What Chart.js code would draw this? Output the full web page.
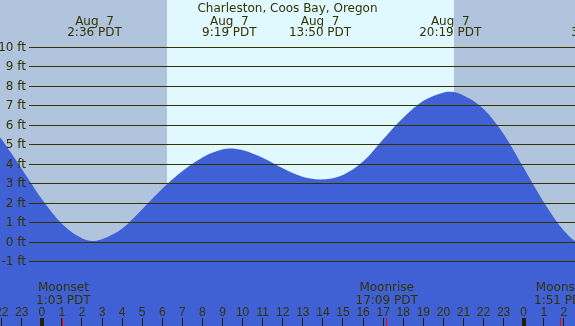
<!DOCTYPE html>
<html>
<head>
<meta charset="utf-8">
<title>Charleston, Coos Bay, Oregon</title>
<script src="https://cdn.jsdelivr.net/npm/chart.js@4/dist/chart.umd.min.js"></script>
<style>
  html, body { margin: 0; padding: 0; overflow: hidden; background: #b0c4de; }
  canvas { display: block; }
</style>
</head>
<body>
<canvas id="tideChart" width="575" height="326"></canvas>
<script>
// Tide curve (hours from midnight Aug 7, feet)
const tideHours = [-2.2, -2, -1, 0, 1, 2, 2.6, 3, 4, 5, 6, 7, 8, 9, 9.317, 10, 11, 12, 13, 13.833, 15, 16, 17, 18, 19, 20, 20.317, 21, 22, 23, 24, 25, 26, 27, 27.7];
const tideFeet  = [5.5, 5.23, 3.71, 2.17, 0.91, 0.18, 0.05, 0.15, 0.7, 1.7, 2.75, 3.65, 4.35, 4.75, 4.8, 4.71, 4.31, 3.77, 3.33, 3.2, 3.45, 4.15, 5.3, 6.4, 7.25, 7.67, 7.7, 7.5, 6.8, 5.5, 3.75, 2.0, 0.55, -0.3, -0.6];

// High / low annotations at the top
const extremeHours = [2.6, 9.317, 13.833, 20.317, 27.7];
const extremeDates = ['Aug  7', 'Aug  7', 'Aug  7', 'Aug  7', 'Aug  8'];
const extremeTimes = ['2:36 PDT', '9:19 PDT', '13:50 PDT', '20:19 PDT', '3:42 PDT'];

// Moon events along the bottom
const moonHours = [1.05, 17.15, 25.85];
const moonNames = ['Moonset', 'Moonrise', 'Moonset'];
const moonTimes = ['1:03 PDT', '17:09 PDT', '1:51 PDT'];

// Daylight span (sunrise / sunset)
const sunrise = 6.2;
const sunset = 20.5;

// Axis labels
const feetTicks = [-1, 0, 1, 2, 3, 4, 5, 6, 7, 8, 9, 10];
const hourTicks = [-2, -1, 0, 1, 2, 3, 4, 5, 6, 7, 8, 9, 10, 11, 12, 13, 14, 15, 16, 17, 18, 19, 20, 21, 22, 23, 24, 25, 26];
const hourLabels = ['22', '23', '0', '1', '2', '3', '4', '5', '6', '7', '8', '9', '10', '11', '12', '13', '14', '15', '16', '17', '18', '19', '20', '21', '22', '23', '0', '1', '2'];

const title = 'Charleston, Coos Bay, Oregon';

const TEXT = '#333300';
const FONT = '"DejaVu Sans", sans-serif';

const decor = {
  id: 'tide-decor',
  beforeDatasetsDraw(chart) {
    const { ctx, scales: { x } } = chart;
    ctx.save();
    ctx.fillStyle = '#b0c4de';
    ctx.fillRect(0, 0, chart.width, chart.height);
    const x0 = x.getPixelForValue(sunrise), x1 = x.getPixelForValue(sunset);
    ctx.fillStyle = '#e0f8ff';
    ctx.fillRect(Math.round(x0), 0, Math.round(x1) - Math.round(x0), chart.height);
    ctx.restore();
  },
  afterDatasetsDraw(chart) {
    const { ctx, scales: { x, y } } = chart;
    const W = chart.width;
    ctx.save();

    // feet grid lines and labels
    ctx.strokeStyle = '#333300';
    ctx.lineWidth = 1;
    ctx.font = '12px ' + FONT;
    ctx.fillStyle = TEXT;
    ctx.textAlign = 'right';
    ctx.textBaseline = 'middle';
    feetTicks.forEach(f => {
      const py = Math.round(y.getPixelForValue(f)) + 0.5;
      ctx.beginPath();
      ctx.moveTo(29, py);
      ctx.lineTo(W, py);
      ctx.stroke();
      ctx.fillText(f + ' ft', 26, py);
    });

    // title and extremes
    ctx.textAlign = 'center';
    ctx.textBaseline = 'alphabetic';
    ctx.fillText(title, W / 2, 12);
    extremeHours.forEach((h, i) => {
      const px = x.getPixelForValue(h);
      ctx.fillText(extremeDates[i], px, 24.5);
      ctx.fillText(extremeTimes[i], px, 36);
    });

    // moon events
    moonHours.forEach((h, i) => {
      const px = x.getPixelForValue(h);
      ctx.fillText(moonNames[i], px, 291);
      ctx.fillText(moonTimes[i], px, 304);
    });

    // hour labels and tick marks
    ctx.font = '12px "Liberation Sans", Arial, sans-serif';
    hourTicks.forEach((h, i) => {
      const px = x.getPixelForValue(h);
      ctx.fillText(hourLabels[i], px - 0.5, 315.5);
      ctx.fillStyle = '#222200';
      if (hourLabels[i] === '0') {
        ctx.fillRect(Math.round(px) - 2, 318, 4, 8);
      } else {
        ctx.fillRect(Math.round(px) - 1, 318, 1, 8);
      }
      ctx.fillStyle = TEXT;
    });
    ctx.fillStyle = '#ff0000';
    moonHours.forEach(h => {
      const px = Math.round(x.getPixelForValue(h));
      ctx.fillRect(px - 1, 318, 1, 8);
    });

    ctx.restore();
  }
};

const points = tideHours.map((h, i) => ({ x: h, y: tideFeet[i] }));

new Chart(document.getElementById('tideChart'), {
  type: 'line',
  data: {
    datasets: [{
      data: points,
      fill: 'start',
      backgroundColor: '#4060d6',
      borderWidth: 0,
      borderColor: 'rgba(0,0,0,0)',
      pointRadius: 0,
      cubicInterpolationMode: 'monotone'
    }]
  },
  options: {
    responsive: false,
    animation: false,
    layout: { padding: 0 },
    plugins: { legend: { display: false }, tooltip: { enabled: false } },
    scales: {
      x: { type: 'linear', min: -2.107, max: 26.53, display: false },
      y: { min: -4.31, max: 12.41, display: false }
    }
  },
  plugins: [decor]
});
</script>
</body>
</html>
